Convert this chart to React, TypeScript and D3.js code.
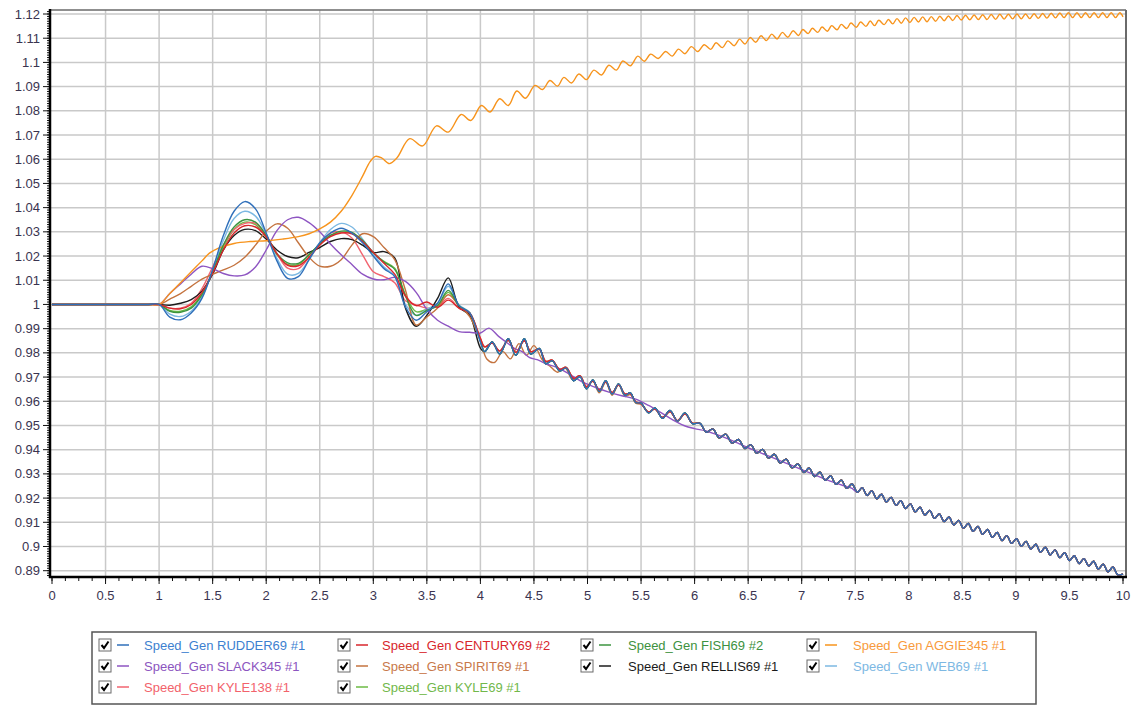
import React from 'react';
import * as d3 from 'd3';

// ---- data ----
const X_TICKS = [0, 0.5, 1, 1.5, 2, 2.5, 3, 3.5, 4, 4.5, 5, 5.5, 6, 6.5, 7, 7.5, 8, 8.5, 9, 9.5, 10];
const Y_TICKS = [0.89, 0.9, 0.91, 0.92, 0.93, 0.94, 0.95, 0.96, 0.97, 0.98, 0.99, 1, 1.01, 1.02, 1.03, 1.04, 1.05, 1.06, 1.07, 1.08, 1.09, 1.1, 1.11, 1.12];

const SERIES_NAMES = [
  'Speed_Gen RUDDER69 #1', 'Speed_Gen CENTURY69 #2', 'Speed_Gen FISH69 #2', 'Speed_Gen AGGIE345 #1',
  'Speed_Gen SLACK345 #1', 'Speed_Gen SPIRIT69 #1', 'Speed_Gen RELLIS69 #1', 'Speed_Gen WEB69 #1',
  'Speed_Gen KYLE138 #1', 'Speed_Gen KYLE69 #1',
];

// time 0..1 is flat at 1.0
const PRE_FAULT: [number, number][] = [[0, 1.0], [0.5, 1.0], [0.9, 1.0]];

// samples from t=1.0 to t=4.0
const T_EARLY = [1.0, 1.1, 1.2, 1.3, 1.4, 1.5, 1.6, 1.7, 1.8, 1.9, 2.0, 2.1, 2.2, 2.3, 2.4, 2.5, 2.6, 2.7, 2.8, 2.9, 3.0, 3.1, 3.2, 3.3, 3.4, 3.5, 3.6, 3.7, 3.8, 3.9, 4.0];

const RUDDER69_EARLY = [1.0, 0.9948, 0.9937, 0.9965, 1.0025, 1.0145, 1.0285, 1.0385, 1.0425, 1.0395, 1.0295, 1.018, 1.0108, 1.0115, 1.0185, 1.0255, 1.0295, 1.0315, 1.0295, 1.0255, 1.020, 1.0148, 1.0115, 0.999, 0.9935, 0.997, 1.0005, 1.0085, 0.9995, 0.9965, 0.9845];
const CENTURY69_EARLY = [1.0, 0.9985, 0.9982, 1.0, 1.005, 1.013, 1.0225, 1.0295, 1.0325, 1.032, 1.028, 1.021, 1.0162, 1.016, 1.0195, 1.0245, 1.028, 1.0295, 1.0292, 1.026, 1.0215, 1.017, 1.0125, 1.0035, 0.9995, 1.001, 0.9988, 1.0018, 0.9985, 0.9965, 0.986];
const FISH69_EARLY = [1.0, 0.9972, 0.9968, 0.9985, 1.004, 1.0135, 1.0245, 1.032, 1.035, 1.034, 1.0285, 1.021, 1.0172, 1.017, 1.0205, 1.025, 1.0285, 1.0303, 1.0298, 1.0265, 1.0215, 1.0175, 1.0145, 1.0035, 0.9955, 0.9975, 0.9995, 1.0058, 0.9995, 0.9965, 0.985];
const SLACK345_EARLY = [1.0, 1.0045, 1.0085, 1.0125, 1.0158, 1.0148, 1.0128, 1.0118, 1.0122, 1.0155, 1.0225, 1.0305, 1.035, 1.036, 1.0338, 1.030, 1.025, 1.0205, 1.0165, 1.0125, 1.0105, 1.0102, 1.0112, 1.0095, 1.005, 0.998, 0.9935, 0.991, 0.9888, 0.9885, 0.9882];
const SPIRIT69_EARLY = [1.0, 1.0022, 1.0045, 1.0075, 1.0105, 1.0125, 1.0143, 1.0162, 1.0195, 1.0245, 1.0302, 1.0333, 1.0315, 1.0255, 1.0195, 1.0158, 1.0158, 1.0185, 1.0245, 1.0292, 1.028, 1.0235, 1.0185, 1.006, 0.9915, 0.9948, 0.9985, 1.004, 0.9995, 0.995, 0.985];
const RELLIS69_EARLY = [1.0, 0.9997, 1.0005, 1.002, 1.0055, 1.0125, 1.0225, 1.0285, 1.031, 1.0305, 1.027, 1.0225, 1.0198, 1.0193, 1.0215, 1.0235, 1.026, 1.0272, 1.0268, 1.0245, 1.0215, 1.0218, 1.0192, 0.9985, 0.991, 0.9955, 1.0025, 1.011, 0.999, 0.9955, 0.982];
const WEB69_EARLY = [1.0, 0.996, 0.995, 0.9972, 1.003, 1.014, 1.0265, 1.0355, 1.0385, 1.0365, 1.029, 1.019, 1.0125, 1.0128, 1.0185, 1.0255, 1.031, 1.0335, 1.032, 1.027, 1.021, 1.0155, 1.0118, 1.0, 0.9955, 0.998, 1.0005, 1.0075, 0.9998, 0.9967, 0.985];
const KYLE138_EARLY = [1.0, 0.9985, 0.9985, 1.0005, 1.0065, 1.0155, 1.0245, 1.031, 1.0335, 1.0335, 1.0285, 1.021, 1.015, 1.0148, 1.0195, 1.025, 1.0295, 1.030, 1.0275, 1.0205, 1.0135, 1.0115, 1.009, 1.0015, 0.9998, 0.9985, 0.9992, 1.0025, 0.9985, 0.996, 0.986];
const KYLE69_EARLY = [1.0, 0.9975, 0.9972, 0.999, 1.0045, 1.0135, 1.0235, 1.031, 1.034, 1.033, 1.028, 1.0205, 1.0165, 1.0165, 1.0205, 1.025, 1.0285, 1.0298, 1.0295, 1.026, 1.021, 1.0178, 1.015, 1.004, 0.997, 0.998, 0.9995, 1.005, 0.9995, 0.9965, 0.9855];

// t = 4 .. 6, falling group (two amplitude variants)
const MID_A: [number, number][] = [
  [4.04, 0.9805], [4.11, 0.9845], [4.18, 0.9795], [4.26, 0.9858], [4.33, 0.979], [4.41, 0.9858], [4.47, 0.9795],
  [4.55, 0.9818], [4.61, 0.9755], [4.67, 0.9768], [4.74, 0.9725], [4.80, 0.9738], [4.87, 0.9685], [4.93, 0.9702],
  [4.99, 0.9652], [5.05, 0.9688], [5.11, 0.964], [5.17, 0.9685], [5.23, 0.963], [5.29, 0.9672], [5.35, 0.9625],
  [5.40, 0.9635], [5.45, 0.9595], [5.50, 0.9592], [5.57, 0.9552], [5.63, 0.9572], [5.70, 0.953], [5.77, 0.9562],
  [5.84, 0.9518], [5.91, 0.9552], [5.98, 0.9508],
];
const MID_B: [number, number][] = [
  [4.04, 0.9825], [4.11, 0.984], [4.18, 0.9808], [4.26, 0.9852], [4.33, 0.9802], [4.41, 0.985], [4.47, 0.9805],
  [4.55, 0.9815], [4.61, 0.9765], [4.67, 0.977], [4.74, 0.9732], [4.80, 0.974], [4.87, 0.9695], [4.93, 0.9705],
  [4.99, 0.966], [5.05, 0.9684], [5.11, 0.9646], [5.17, 0.968], [5.23, 0.9636], [5.29, 0.9668], [5.35, 0.963],
  [5.40, 0.9632], [5.45, 0.9598], [5.50, 0.959], [5.57, 0.9556], [5.63, 0.9568], [5.70, 0.9533], [5.77, 0.9558],
  [5.84, 0.952], [5.91, 0.9548], [5.98, 0.951],
];
const SPIRIT69_MID: [number, number][] = [
  [4.06, 0.9775], [4.13, 0.976], [4.21, 0.9805], [4.28, 0.9775], [4.36, 0.9838], [4.43, 0.979], [4.50, 0.983],
  [4.58, 0.977], [4.65, 0.9745], [4.72, 0.972], [4.79, 0.9738], [4.86, 0.969], [4.93, 0.9705], [4.99, 0.9655],
  [5.05, 0.9683], [5.11, 0.9635], [5.17, 0.9678], [5.23, 0.9625], [5.29, 0.9668], [5.35, 0.962], [5.40, 0.9628],
  [5.45, 0.9592], [5.50, 0.9588], [5.57, 0.9556], [5.63, 0.9568], [5.70, 0.9533], [5.77, 0.9558], [5.84, 0.952],
  [5.91, 0.9548], [5.98, 0.951],
];
const SLACK345_MID: [number, number][] = [
  [4.08, 0.9902], [4.17, 0.9868], [4.24, 0.9845], [4.32, 0.9818], [4.39, 0.9805], [4.46, 0.978], [4.53, 0.9772],
  [4.61, 0.9755], [4.70, 0.9742], [4.77, 0.9728], [4.83, 0.9712], [4.95, 0.968], [5.07, 0.9658], [5.20, 0.9638],
  [5.32, 0.9623], [5.45, 0.9609], [5.57, 0.9583], [5.69, 0.9552], [5.80, 0.9522], [5.90, 0.95], [6.00, 0.9487],
  [6.10, 0.9478], [6.20, 0.9463], [6.30, 0.9447], [6.40, 0.9428], [6.50, 0.9408], [6.60, 0.939], [6.70, 0.9372],
  [6.80, 0.9354], [6.90, 0.9336], [7.00, 0.9318], [7.10, 0.93], [7.20, 0.9282], [7.30, 0.9265], [7.40, 0.925],
  [7.47, 0.924],
];

// t = 6 .. 10, all falling units overlap
const TAIL: [number, number][] = [
  [6.05, 0.9509], [6.11, 0.9472], [6.17, 0.9486], [6.23, 0.9449], [6.29, 0.9464], [6.35, 0.9427], [6.41, 0.9442],
  [6.47, 0.9405], [6.525, 0.9421], [6.58, 0.9385], [6.635, 0.9401], [6.69, 0.9365], [6.745, 0.9381], [6.80, 0.9345],
  [6.855, 0.9361], [6.91, 0.9325], [6.965, 0.9341], [7.02, 0.9306], [7.07, 0.9324], [7.12, 0.9289], [7.17, 0.9307],
  [7.22, 0.9273], [7.27, 0.9291], [7.32, 0.9257], [7.37, 0.9274], [7.42, 0.924], [7.47, 0.9258], [7.52, 0.9224],
  [7.565, 0.9243], [7.61, 0.9211], [7.655, 0.923], [7.70, 0.9197], [7.745, 0.9216], [7.79, 0.9184], [7.835, 0.9203],
  [7.88, 0.917], [7.925, 0.9189], [7.97, 0.9157], [8.015, 0.9176], [8.06, 0.9143], [8.105, 0.9162], [8.15, 0.913],
  [8.195, 0.9149], [8.24, 0.9116], [8.285, 0.9135], [8.33, 0.9103], [8.375, 0.9122], [8.42, 0.9089], [8.465, 0.9108],
  [8.51, 0.9076], [8.555, 0.9095], [8.60, 0.9063], [8.645, 0.9083], [8.69, 0.905], [8.735, 0.907], [8.78, 0.9038],
  [8.825, 0.9058], [8.87, 0.9025], [8.915, 0.9045], [8.96, 0.9013], [9.005, 0.9032], [9.05, 0.9001], [9.095, 0.9021],
  [9.14, 0.8989], [9.185, 0.9009], [9.23, 0.8977], [9.275, 0.8997], [9.32, 0.8965], [9.365, 0.8986], [9.41, 0.8954],
  [9.455, 0.8974], [9.50, 0.8942], [9.545, 0.8962], [9.59, 0.893], [9.635, 0.895], [9.68, 0.8919], [9.725, 0.8939],
  [9.77, 0.8907], [9.815, 0.8927], [9.86, 0.8895], [9.905, 0.8915], [9.95, 0.8884], [10.0, 0.8886],
];

// the accelerating unit
const AGGIE345: [number, number][] = [
  [0, 1.0], [0.5, 1.0], [0.9, 1.0], [1.0, 1.0], [1.1, 1.0045], [1.2, 1.009], [1.3, 1.0135], [1.4, 1.018], [1.47, 1.0212], [1.55, 1.0232],
  [1.7, 1.0252], [1.85, 1.026], [2.0, 1.0263], [2.15, 1.027], [2.3, 1.028], [2.4, 1.0292], [2.5, 1.0312], [2.6, 1.034],
  [2.7, 1.0385], [2.8, 1.045], [2.9, 1.053], [2.97, 1.059], [3.02, 1.0612], [3.08, 1.0605], [3.15, 1.0582],
  [3.22, 1.0605], [3.34, 1.0685], [3.46, 1.0655], [3.59, 1.0738], [3.70, 1.0712], [3.82, 1.0785], [3.91, 1.076],
  [4.01, 1.0822], [4.09, 1.0795], [4.18, 1.085], [4.26, 1.0822], [4.34, 1.0882], [4.42, 1.0852], [4.51, 1.0905],
  [4.58, 1.0888], [4.65, 1.0925], [4.72, 1.0902], [4.78, 1.0938], [4.85, 1.0915], [4.92, 1.0952], [4.99, 1.0929],
  [5.06, 1.0968], [5.13, 1.0948], [5.20, 1.0988], [5.27, 1.0968], [5.33, 1.1006], [5.40, 1.0986], [5.47, 1.1026],
  [5.53, 1.1005], [5.59, 1.1034], [5.66, 1.1016], [5.73, 1.1045], [5.79, 1.1026], [5.85, 1.1055], [5.91, 1.1036],
  [5.97, 1.1065], [6.03, 1.1045], [6.09, 1.1073], [6.15, 1.1054], [6.20, 1.1081], [6.26, 1.1061], [6.31, 1.1089],
  [6.37, 1.1069], [6.42, 1.1096], [6.47, 1.1076], [6.52, 1.1103], [6.57, 1.1083], [6.62, 1.111], [6.67, 1.109],
  [6.72, 1.1117], [6.77, 1.1097], [6.82, 1.1124], [6.87, 1.1104], [6.92, 1.1131], [6.97, 1.1111], [7.01, 1.1136],
  [7.06, 1.1119], [7.10, 1.1141], [7.15, 1.1124], [7.19, 1.1146], [7.24, 1.1129], [7.28, 1.1152], [7.33, 1.1135],
  [7.37, 1.1157], [7.42, 1.114], [7.46, 1.1163], [7.51, 1.1145], [7.55, 1.1167], [7.60, 1.1149], [7.64, 1.1171],
  [7.68, 1.1152], [7.72, 1.1174], [7.77, 1.1156], [7.81, 1.1177], [7.85, 1.1159], [7.89, 1.1181], [7.93, 1.1162],
  [7.97, 1.1184], [8.01, 1.1165], [8.05, 1.1186], [8.09, 1.1167], [8.13, 1.1188], [8.17, 1.1168], [8.21, 1.1189],
  [8.25, 1.117], [8.29, 1.1191], [8.33, 1.1172], [8.37, 1.1192], [8.41, 1.1173], [8.45, 1.1194], [8.49, 1.1175],
  [8.53, 1.1195], [8.57, 1.1176], [8.61, 1.1196], [8.65, 1.1177], [8.69, 1.1197], [8.73, 1.1177], [8.77, 1.1198],
  [8.81, 1.1178], [8.85, 1.1199], [8.89, 1.1179], [8.93, 1.1199], [8.97, 1.118], [9.01, 1.12], [9.05, 1.118],
  [9.09, 1.12], [9.13, 1.1181], [9.17, 1.1201], [9.21, 1.1182], [9.25, 1.1202], [9.29, 1.1183], [9.33, 1.1203],
  [9.37, 1.1184], [9.41, 1.1204], [9.45, 1.1185], [9.49, 1.1205], [9.53, 1.1185], [9.57, 1.1205], [9.61, 1.1185],
  [9.65, 1.1205], [9.69, 1.1185], [9.73, 1.1205], [9.77, 1.1185], [9.81, 1.1205], [9.85, 1.1185], [9.89, 1.1205],
  [9.93, 1.1185], [9.97, 1.1205], [10.0, 1.1188],
];

// ---- assemble ----
const early = (vals: number[]): [number, number][] => T_EARLY.map((t, i) => [t, vals[i]]);
const after = (pts: [number, number][], t0: number) => pts.filter((p) => p[0] > t0);

const SERIES: [number, number][][] = [
  [...PRE_FAULT, ...early(RUDDER69_EARLY), ...MID_A, ...TAIL],
  [...PRE_FAULT, ...early(CENTURY69_EARLY), ...MID_B, ...TAIL],
  [...PRE_FAULT, ...early(FISH69_EARLY), ...MID_A, ...TAIL],
  AGGIE345,
  [...PRE_FAULT, ...early(SLACK345_EARLY), ...SLACK345_MID, ...after(TAIL, 7.5)],
  [...PRE_FAULT, ...early(SPIRIT69_EARLY), ...SPIRIT69_MID, ...TAIL],
  [...PRE_FAULT, ...early(RELLIS69_EARLY), ...MID_A, ...TAIL],
  [...PRE_FAULT, ...early(WEB69_EARLY), ...MID_A, ...TAIL],
  [...PRE_FAULT, ...early(KYLE138_EARLY), ...MID_B, ...TAIL],
  [...PRE_FAULT, ...early(KYLE69_EARLY), ...MID_B, ...TAIL],
];

const LINE_COLORS = ['#2f6fba', '#d9262c', '#3c9440', '#f7941d', '#8e55c2', '#c4733f', '#1c1c1c', '#7cb8e2', '#f26470', '#6dbb45'];
const TEXT_COLORS = ['#3d7fd0', '#d8262c', '#3d9140', '#f89a3c', '#8c55c0', '#c8784a', '#1a1a1a', '#7db8e3', '#f2626b', '#72b84a'];

const FONT = '"Liberation Sans", Arial, sans-serif';

export default function App() {
  const W = 1132;
  const H = 709;
  const left = 50, right = 1126, top = 10, bottom = 577;

  const x = d3.scaleLinear().domain([0, 10]).range([52, 1123]);
  const y = d3.scaleLinear().domain([0.89, 1.12]).range([570.7, 14]);

  const line = d3
    .line<[number, number]>()
    .x((d) => x(d[0]))
    .y((d) => y(d[1]))
    .curve(d3.curveCatmullRom.alpha(0.5));

  const yMinor: number[] = [];
  for (let i = 888; i <= 1121; i++) yMinor.push(i / 1000);
  const xMinor: number[] = [];
  for (let i = 0; i <= 80; i++) xMinor.push(i * 0.125);

  const fmt = d3.format('~g');

  // draw in reverse order so the first units end on top
  const order = d3.range(SERIES.length).reverse();

  const colX = [99, 338, 581, 807];
  const rowY = [645, 666, 687];
  const textOffset = [45, 44, 47, 46];

  return (
    <div style={{ position: 'absolute', left: 0, top: 0 }}>
      <svg width={W} height={H} style={{ display: 'block', background: '#fff' }}>
        {/* grid */}
        <g stroke="#c9c9c9" strokeWidth={1.5}>
          {X_TICKS.filter((t) => t > 0 && t < 10).map((t) => (
            <line key={'gx' + t} x1={x(t)} x2={x(t)} y1={top} y2={bottom} />
          ))}
          {Y_TICKS.map((t) => (
            <line key={'gy' + t} x1={left} x2={right} y1={y(t)} y2={y(t)} />
          ))}
        </g>

        {/* frame top / right */}
        <line x1={left} x2={right} y1={top} y2={top} stroke="#6a6a6a" strokeWidth={1.5} />
        <line x1={right} x2={right} y1={top} y2={bottom} stroke="#6a6a6a" strokeWidth={2} />

        {/* series */}
        <g fill="none" strokeWidth={1.4} strokeLinejoin="round">
          {order.map((i) => (
            <path key={'s' + i} d={line(SERIES[i]) || ''} stroke={LINE_COLORS[i]} />
          ))}
        </g>

        {/* y axis */}
        <g stroke="#111" strokeWidth={1}>
          {yMinor.map((v) => (
            <line key={'ym' + v} x1={left - 3} x2={left} y1={y(v)} y2={y(v)} />
          ))}
          {Y_TICKS.map((v) => (
            <line key={'yt' + v} x1={left - 7} x2={left} y1={y(v)} y2={y(v)} />
          ))}
        </g>
        <line x1={left} x2={left} y1={top - 1} y2={bottom + 1} stroke="#000" strokeWidth={2.5} />
        {Y_TICKS.map((v) => (
          <text key={'yl' + v} x={40} y={y(v)} dy="0.35em" textAnchor="end" fontFamily={FONT} fontSize={13} fill="#3a3450">
            {fmt(v)}
          </text>
        ))}

        {/* x axis */}
        <g stroke="#111" strokeWidth={1}>
          {xMinor.map((t) => (
            <line key={'xm' + t} x1={x(t)} x2={x(t)} y1={bottom} y2={bottom + 4} />
          ))}
          {X_TICKS.map((t) => (
            <line key={'xt' + t} x1={x(t)} x2={x(t)} y1={bottom} y2={bottom + 7} />
          ))}
        </g>
        <line x1={left - 1} x2={right + 1} y1={bottom} y2={bottom} stroke="#000" strokeWidth={2.5} />
        {X_TICKS.map((t) => (
          <text key={'xl' + t} x={x(t)} y={595} dy="0.35em" textAnchor="middle" fontFamily={FONT} fontSize={13} fill="#3a3450">
            {fmt(t)}
          </text>
        ))}

        {/* legend */}
        <rect x={92} y={632} width={944} height={72} fill="#fff" stroke="#555" strokeWidth={1.5} />
        {SERIES_NAMES.map((name, i) => {
          const cx = colX[i % 4];
          const cy = rowY[Math.floor(i / 4)];
          return (
            <g key={'lg' + i} transform={`translate(${cx},${cy})`}>
              <rect x={0} y={-6} width={12} height={12} fill="#fff" stroke="#6b6b6b" strokeWidth={1} />
              <path d="M2.5,0 L5,3 L9.5,-3.5" fill="none" stroke="#000" strokeWidth={2} />
              <line x1={18} x2={30} y1={0} y2={0} stroke={LINE_COLORS[i]} strokeWidth={1.5} />
              <text x={textOffset[i % 4]} y={0} dy="0.35em" fontFamily={FONT} fontSize={13} fill={TEXT_COLORS[i]}>
                {name}
              </text>
            </g>
          );
        })}
      </svg>
    </div>
  );
}
